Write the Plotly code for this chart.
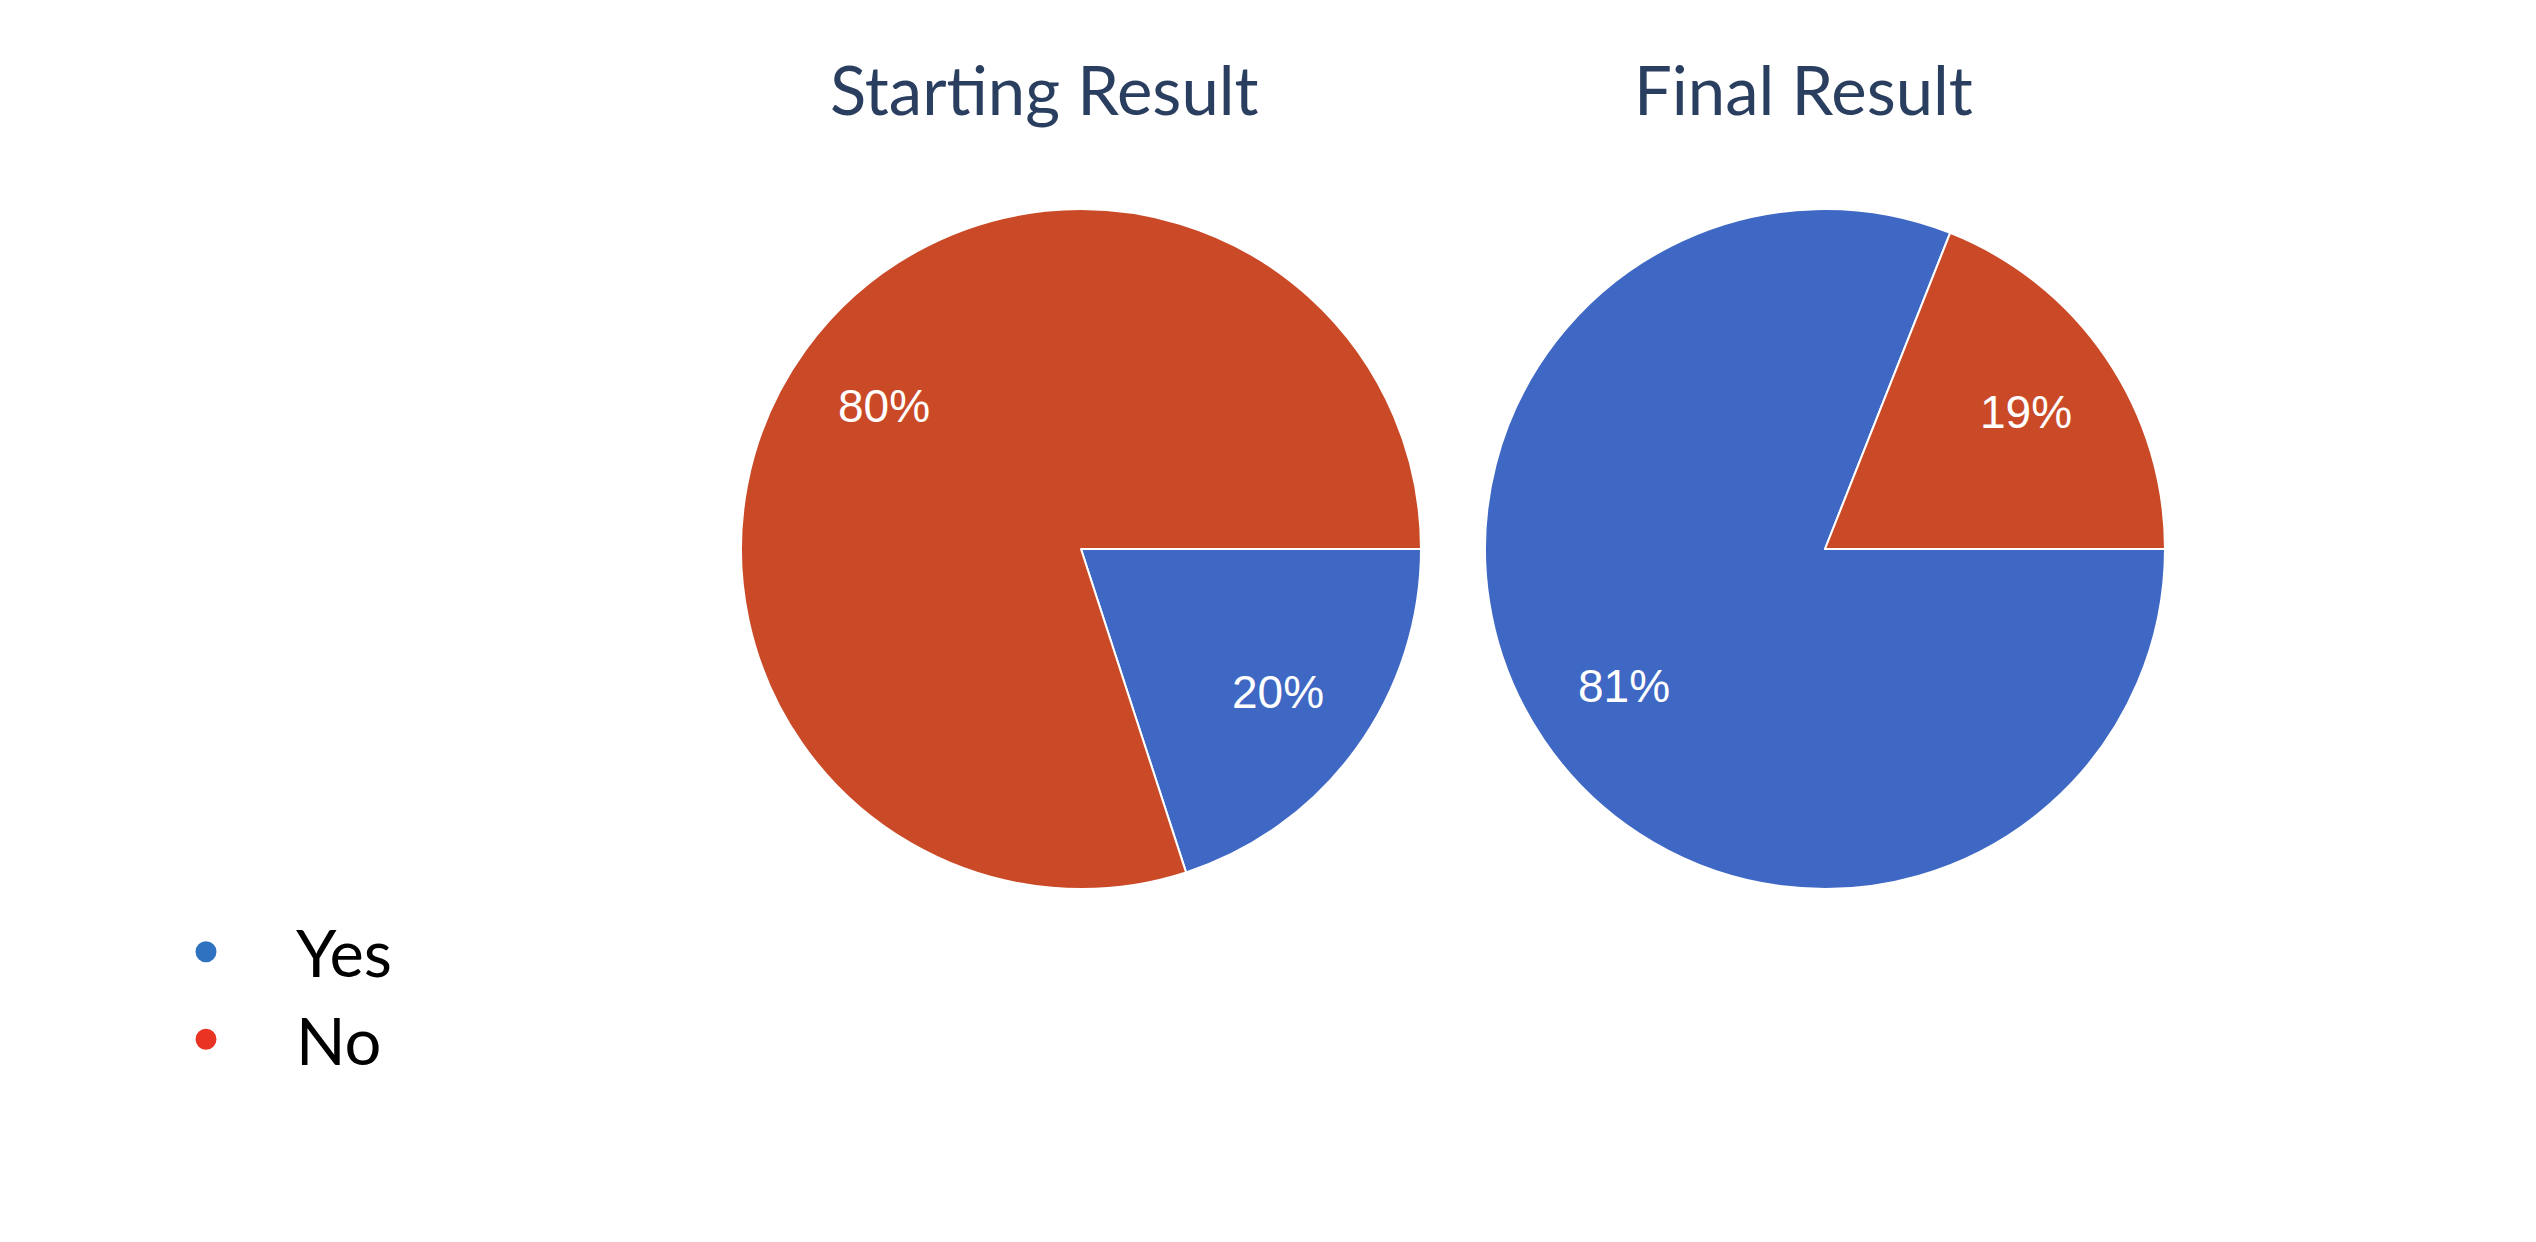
import math
import plotly.graph_objects as go

labels = ["Yes", "No"]
starting_values = [20, 80]
final_values = [81, 19]
titles = ["Starting Result", "Final Result"]

pie_colors = ["#3F68C4", "#CA4A28"]
legend_colors = ["#2F72C0", "#E93424"]

W, H = 2536, 1242

def px_x(v):
    return v / W

def px_y(v):
    return 1 - v / H

R = 340
centers = [(1073, 541), (1817, 541)]
LABEL_R = 0.715 * R

fig = go.Figure()

for vals, (cx, cy) in zip([starting_values, final_values], centers):
    fig.add_trace(go.Pie(
        labels=labels,
        values=vals,
        sort=False,
        direction="clockwise",
        rotation=90,
        marker=dict(colors=pie_colors, line=dict(color="white", width=2)),
        textinfo="none",
        domain=dict(x=[px_x(cx - R), px_x(cx + R)], y=[px_y(cy + R), px_y(cy - R)]),
        showlegend=False,
        hoverinfo="label+percent",
    ))
    # percentage labels placed on each slice's bisector (derived from the values)
    total = sum(vals)
    cum = 0.0
    for v in vals:
        f = v / total
        theta = math.radians(90 + 360 * (cum + f / 2))
        lx = cx + math.sin(theta) * LABEL_R
        ly = cy - math.cos(theta) * LABEL_R
        fig.add_annotation(
            text=f"{round(f * 100)}%", x=px_x(lx), y=px_y(ly),
            xref="paper", yref="paper", xanchor="center", yanchor="middle",
            showarrow=False,
            font=dict(family="Liberation Sans, Arial", size=46, color="white"),
        )
        cum += f

for lab, col in zip(labels, legend_colors):
    fig.add_trace(go.Scatter(
        x=[None], y=[None], mode="markers", name=lab,
        marker=dict(color=col, size=16, symbol="circle", line=dict(color=col, width=5)),
        showlegend=True,
    ))

title_x = [1036, 1795]
for t, tx in zip(titles, title_x):
    fig.add_annotation(
        text=t, x=px_x(tx), y=px_y(81), xref="paper", yref="paper",
        xanchor="center", yanchor="middle", showarrow=False,
        font=dict(family="Lato", size=67, color="#2A3F5F"),
    )

fig.update_layout(
    width=W, height=H,
    margin=dict(l=0, r=0, t=0, b=0),
    paper_bgcolor="white", plot_bgcolor="white",
    xaxis=dict(visible=False), yaxis=dict(visible=False),
    legend=dict(
        x=px_x(108), y=px_y(895), xanchor="left", yanchor="top",
        font=dict(family="Lato", size=65, color="black"),
        itemwidth=170, bgcolor="rgba(0,0,0,0)",
        tracegroupgap=0,
    ),
)

fig.write_html("out.html")
